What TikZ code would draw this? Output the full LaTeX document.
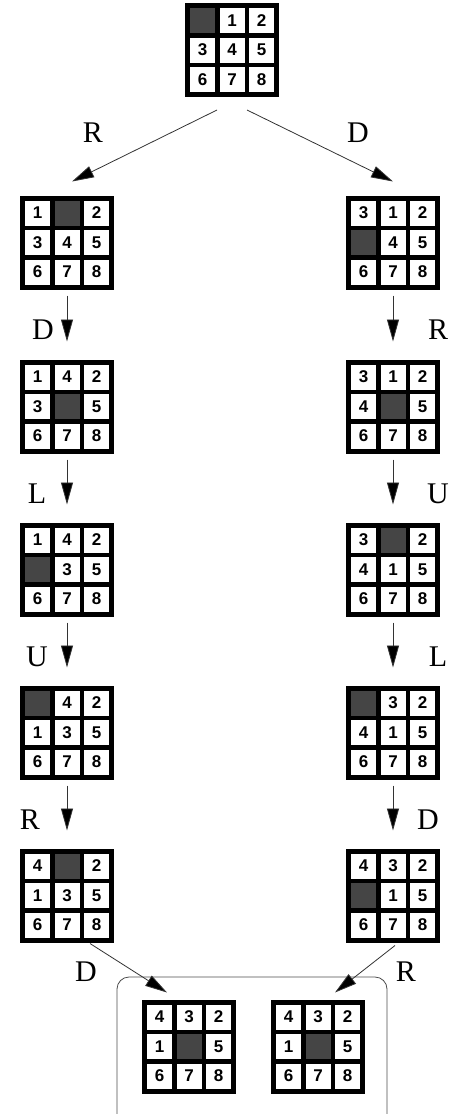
\documentclass[tikz,border=0pt]{standalone}
\usepackage{fontspec}
\setmainfont{Liberation Serif}
\setsansfont{Liberation Sans}
\usetikzlibrary{arrows.meta}
\definecolor{holegray}{gray}{0.27}
% one 8-puzzle board, 0 = empty square
\newcommand{\board}[3]{%
  \node[board] (#1) at (#2) {};
  \foreach \t [count=\k from 0] in {#3} {
    \pgfmathtruncatemacro{\bcol}{mod(\k,3)}
    \pgfmathtruncatemacro{\brow}{div(\k,3)}
    \ifnum\t=0
      \node[hole] (#1-\k) at ([shift={(\bcol*29.5-29.5,\brow*29.5-29.5)}]#1.center) {};
    \else
      \node[tile] (#1-\k) at ([shift={(\bcol*29.5-29.5,\brow*29.5-29.5)}]#1.center) {\t};
    \fi
  }%
}

\begin{document}
\begin{tikzpicture}[x=1pt, y=-1pt,
  board/.style={fill=black, minimum size=94pt, inner sep=0pt, outer sep=0pt},
  tile/.style={fill=white, minimum size=25pt, inner sep=0pt, font=\fontsize{17}{17}\selectfont\sffamily\bfseries},
  hole/.style={fill=holegray, minimum size=25pt, inner sep=0pt},
  move/.style={draw=black!80, line width=0.8pt, -{Triangle[length=22pt, width=12pt, fill=black]}},
  vmove/.style={move, shorten <=6pt, shorten >=18pt},
  lbl/.style={font=\fontsize{30}{30}\selectfont},
  goalbox/.style={draw=black!70, line width=0.8pt, rounded corners=12pt}
]
\useasboundingbox (0,0) rectangle (460,1114);

% start state
\board{top}{232,50}{0,1,2,3,4,5,6,7,8}

% left branch
\board{l1}{67,242.5}{1,0,2,3,4,5,6,7,8}
\board{l2}{67,406.5}{1,4,2,3,0,5,6,7,8}
\board{l3}{67,569.5}{1,4,2,0,3,5,6,7,8}
\board{l4}{67,732.5}{0,4,2,1,3,5,6,7,8}
\board{l5}{67,895.5}{4,0,2,1,3,5,6,7,8}

% right branch
\board{r1}{393,242.5}{3,1,2,0,4,5,6,7,8}
\board{r2}{393,406.5}{3,1,2,4,0,5,6,7,8}
\board{r3}{393,569.5}{3,0,2,4,1,5,6,7,8}
\board{r4}{393,732.5}{0,3,2,4,1,5,6,7,8}
\board{r5}{393,895.5}{4,3,2,0,1,5,6,7,8}

% common goal
\node[goalbox, minimum width=270pt, minimum height=150pt] (goal) at (252,1052) {};
\board{g1}{189,1046.5}{4,3,2,1,0,5,6,7,8}
\board{g2}{318,1046.5}{4,3,2,1,0,5,6,7,8}

% first moves
\draw[move] ([shift={(-15,13)}]top.south) -- ([shift={(5,-14)}]l1.north);
\draw[move] ([shift={(15,13)}]top.south) -- ([shift={(0,-14)}]r1.north);
\node[lbl] (mR) at (93,133) {R};
\node[lbl] (mD) at (358,133) {D};

% left chain
\draw[vmove] (l1) -- (l2) node[lbl, pos=.58, xshift=-24pt] {D};
\draw[vmove] (l2) -- (l3) node[lbl, pos=.58, xshift=-30pt] {L};
\draw[vmove] (l3) -- (l4) node[lbl, pos=.58, xshift=-30pt] {U};
\draw[vmove] (l4) -- (l5) node[lbl, pos=.58, xshift=-37pt] {R};

% right chain
\draw[vmove] (r1) -- (r2) node[lbl, pos=.58, xshift=45pt] {R};
\draw[vmove] (r2) -- (r3) node[lbl, pos=.58, xshift=45pt] {U};
\draw[vmove] (r3) -- (r4) node[lbl, pos=.58, xshift=45pt] {L};
\draw[vmove] (r4) -- (r5) node[lbl, pos=.58, xshift=35pt] {D};

% last moves
\draw[move] ([shift={(23,1)}]l5.south) -- ([shift={(-22,-7)}]g1.north);
\draw[move] ([shift={(2,3)}]r5.south) -- ([shift={(17,-7)}]g2.north);
\node[lbl] (lD) at (86,972) {D};
\node[lbl] (lR) at (406,972) {R};
\end{tikzpicture}
\end{document}
